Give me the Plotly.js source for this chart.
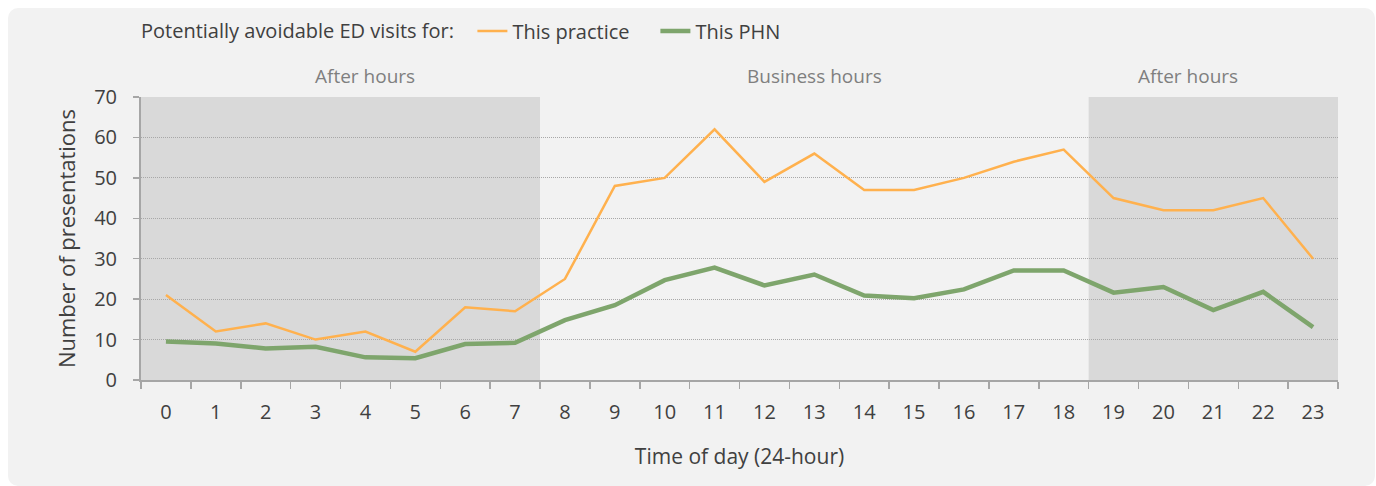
<!DOCTYPE html>
<html>
<head>
<meta charset="utf-8">
<script src="https://cdn.plot.ly/plotly-3.0.1.min.js"></script>
<style>
  html, body { margin: 0; padding: 0; background: #fff; }
  #card { position: absolute; left: 8px; top: 8px; width: 1367px; height: 478px;
          background: #f2f2f2; border-radius: 10px; }
  #myDiv { position: absolute; left: 0; top: 0; width: 1376px; height: 486px; }
</style>
</head>
<body>
<div id="card"></div>
<div id="myDiv"></div>
<script>
hours = ['0','1','2','3','4','5','6','7','8','9','10','11','12','13','14','15','16','17','18','19','20','21','22','23'];
practice = [21, 12, 14, 10, 12, 7, 18, 17, 25, 48, 50, 62, 49, 56, 47, 47, 50, 54, 57, 45, 42, 42, 45, 30];
phn = [9.5, 9, 7.8, 8.2, 5.6, 5.4, 8.9, 9.2, 14.8, 18.5, 24.7, 27.8, 23.4, 26.1, 20.9, 20.2, 22.4, 27.1, 27.1, 21.6, 23, 17.3, 21.8, 13.1];
periodLabels = ['After hours', 'Business hours', 'After hours'];
periodCentres = [4, 13, 20.5];

graphDiv = document.getElementById('myDiv');

var trace1 = {
    x: hours,
    y: practice,
    type: 'scatter',
    mode: 'lines',
    name: 'This practice',
    line: {color: '#ffb14e', width: 2.5}
};

var trace2 = {
    x: hours,
    y: phn,
    type: 'scatter',
    mode: 'lines',
    name: 'This PHN',
    line: {color: '#7ea56c', width: 4.5}
};

var fontFam = '"Open Sans", "Noto Sans", sans-serif';

var notes = [];
for (var i = 0; i < periodLabels.length; i++) {
    notes.push({x: periodCentres[i], y: 1, xref: 'x', yref: 'paper', yanchor: 'bottom', yshift: 6,
        text: periodLabels[i], showarrow: false, font: {size: 19, color: '#7f7f7f'}});
}

var layout = {
    width: 1376,
    height: 486,
    paper_bgcolor: 'rgba(0,0,0,0)',
    plot_bgcolor: '#f2f2f2',
    margin: {l: 141, r: 38, t: 97, b: 106, autoexpand: false},
    font: {family: fontFam, color: '#404040'},
    showlegend: true,
    legend: {
        orientation: 'h',
        xref: 'container', yref: 'container',
        x: 0.101, xanchor: 'left',
        y: 0.936, yanchor: 'middle',
        itemwidth: 30,
        entrywidth: 138,
        title: {text: 'Potentially avoidable ED visits for:  ', font: {size: 20, color: '#404040'}},
        font: {size: 20, color: '#404040'},
        bgcolor: 'rgba(0,0,0,0)'
    },
    xaxis: {
        type: 'category',
        range: [-0.5, 23.5],
        tickson: 'boundaries',
        ticks: 'outside',
        ticklen: 7,
        tickcolor: '#a6a6a6',
        tickwidth: 1.5,
        ticklabelstandoff: 13,
        showline: true,
        linecolor: '#a6a6a6',
        linewidth: 2,
        showgrid: false,
        tickfont: {size: 20, color: '#404040'},
        title: {text: 'Time of day (24-hour)', font: {size: 21, color: '#404040'}, standoff: 25},
        automargin: false,
        fixedrange: true
    },
    yaxis: {
        range: [0, 70],
        dtick: 10,
        ticks: 'outside',
        ticklen: 6,
        tickcolor: '#a6a6a6',
        tickwidth: 1.5,
        ticklabelstandoff: 12,
        showline: true,
        linecolor: '#a6a6a6',
        linewidth: 2,
        showgrid: true,
        gridcolor: '#a8a8a8',
        griddash: '1px,1px',
        gridwidth: 1,
        zeroline: false,
        tickfont: {size: 20, color: '#404040'},
        title: {text: 'Number of presentations', font: {size: 22, color: '#404040'}, standoff: 12},
        automargin: false,
        fixedrange: true
    },
    shapes: [
        {type: 'rect', xref: 'x', yref: 'y', x0: -0.5, x1: 7.5, y0: 0, y1: 70,
         fillcolor: '#d9d9d9', line: {width: 0}, layer: 'below'},
        {type: 'rect', xref: 'x', yref: 'y', x0: 18.5, x1: 23.5, y0: 0, y1: 70,
         fillcolor: '#d9d9d9', line: {width: 0}, layer: 'below'}
    ],
    annotations: notes
};

Plotly.newPlot(graphDiv, [trace1, trace2], layout, {displayModeBar: false, staticPlot: true});
</script>
</body>
</html>
